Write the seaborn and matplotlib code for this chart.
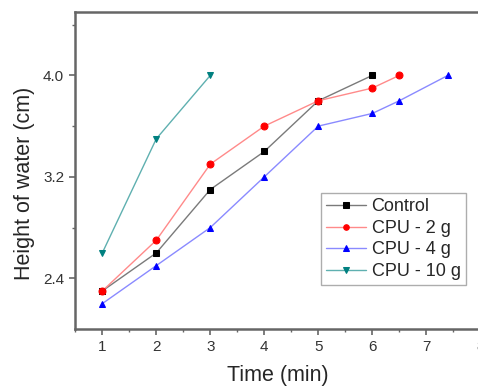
import matplotlib
matplotlib.use("Agg")
import matplotlib.pyplot as plt
import seaborn as sns
import pandas as pd
from matplotlib.ticker import MultipleLocator

# data
control_x = [1, 2, 3, 4, 5, 6]
control_y = [2.3, 2.6, 3.1, 3.4, 3.8, 4.0]
cpu2_x = [1, 2, 3, 4, 5, 6, 6.5]
cpu2_y = [2.3, 2.7, 3.3, 3.6, 3.8, 3.9, 4.0]
cpu4_x = [1, 2, 3, 4, 5, 6, 6.5, 7.4]
cpu4_y = [2.2, 2.5, 2.8, 3.2, 3.6, 3.7, 3.8, 4.0]
cpu10_x = [1, 2, 3]
cpu10_y = [2.6, 3.5, 4.0]

series = [
    ("Control", control_x, control_y, "s", "black", "#7a7a7a"),
    ("CPU - 2 g", cpu2_x, cpu2_y, "o", "red", "#ff8a8a"),
    ("CPU - 4 g", cpu4_x, cpu4_y, "^", "blue", "#8a8aff"),
    ("CPU - 10 g", cpu10_x, cpu10_y, "v", "#008080", "#5fb0b0"),
]

sns.set_style("ticks")
plt.rcParams["font.family"] = ["Liberation Sans", "DejaVu Sans"]

fig = plt.figure(figsize=(4.78, 3.87), dpi=100)
# axes run to x=8 right at the image edge, like the cropped original
ax = fig.add_axes([75.3 / 478, 1 - 329 / 387, 405 / 478, (329 - 12) / 387])

for name, xs, ys, mk, mcol, lcol in series:
    df = pd.DataFrame({"x": xs, "y": ys})
    sns.lineplot(data=df, x="x", y="y", ax=ax, color=lcol, linewidth=1.0,
                 marker=mk, markersize=5, markerfacecolor=mcol,
                 markeredgecolor=mcol, label=name)

ax.set_xlim(0.5, 8.0)
ax.set_ylim(2.0, 4.5)
ax.xaxis.set_major_locator(MultipleLocator(1))
ax.xaxis.set_minor_locator(MultipleLocator(0.5))
ax.set_yticks([2.4, 3.2, 4.0])
ax.set_yticks([2.8, 3.6, 4.4], minor=True)
ax.set_yticklabels(["2.4", "3.2", "4.0"])

spine_col = "#666666"
for s in ax.spines.values():
    s.set_color(spine_col)
    s.set_linewidth(1.8)
ax.tick_params(which="major", direction="out", length=4, width=1.2,
               color=spine_col, labelsize=11, labelcolor="#333333", pad=4)
ax.tick_params(which="minor", direction="out", length=2.5, width=1.0,
               color=spine_col)

ax.set_xlabel("Time (min)", fontsize=15.5)
ax.set_ylabel("Height of water (cm)", fontsize=15.5)
ax.xaxis.set_label_coords(0.5, -0.115)
ax.yaxis.set_label_coords(-0.1, 0.46)

leg = ax.legend(loc="upper left",
                bbox_to_anchor=((321 - 75.3) / 405, 1 - (193 - 12) / 317),
                frameon=True, fancybox=False, fontsize=13, handlelength=2.2,
                handletextpad=0.3, borderpad=0.3, labelspacing=0.25,
                borderaxespad=0, markerscale=0.8)
leg.get_frame().set_edgecolor("#999999")
leg.get_frame().set_linewidth(1.0)

fig.savefig("out.png", dpi=100)
